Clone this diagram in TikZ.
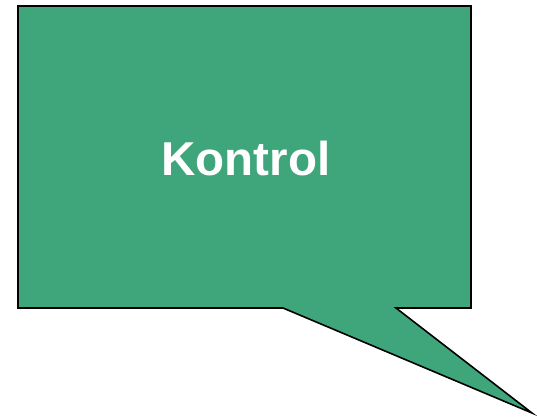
\documentclass[tikz,border=0pt]{standalone}
\usepackage{fontspec}
\setmainfont{Liberation Sans}
\definecolor{bubblegreen}{RGB}{63,166,123}
\begin{document}
\begin{tikzpicture}[x=1pt,y=-1pt,
  bubble/.style={fill=bubblegreen,draw=black,line width=1.6pt,line join=miter},
  label/.style={text=white,font=\bfseries\fontsize{47.5}{52}\selectfont,inner sep=0pt}]
\useasboundingbox (0,0) rectangle (537,418);
\coordinate (tl) at (18,6);
\coordinate (tr) at (471,6);
\coordinate (br) at (471,308);
\coordinate (bl) at (18,308);
\coordinate (t1) at (283,308);
\coordinate (t2) at (396,308);
\coordinate (tip) at (532,413);
\draw[bubble] (tl) -- (tr) -- (br) -- (t2) -- (tip) -- (t1) -- (bl) -- cycle;
\node[label,anchor=base] (k) at (246,175.5) {Kontrol};
\end{tikzpicture}
\end{document}
